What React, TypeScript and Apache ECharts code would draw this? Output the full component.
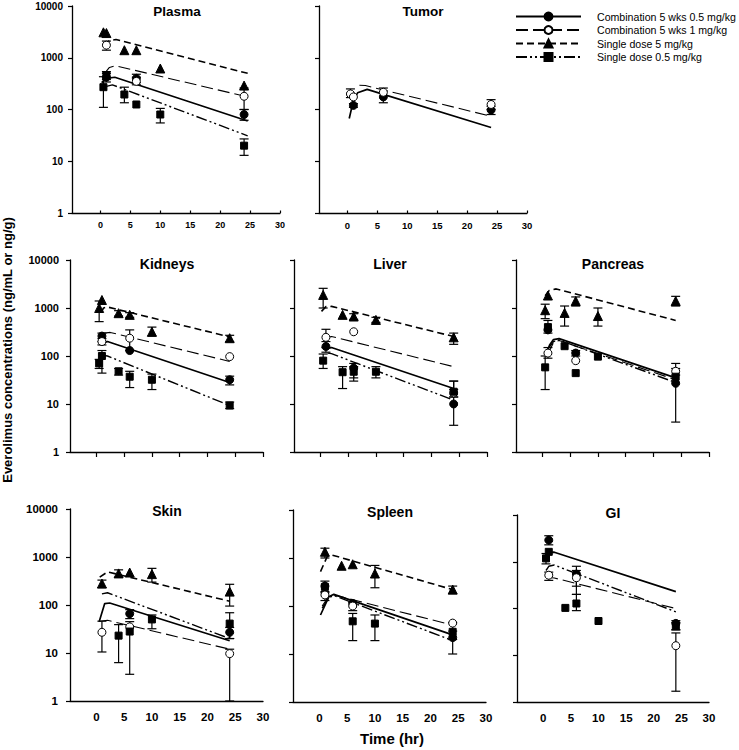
import React, { useEffect, useRef } from "react";
import * as echarts from "echarts";

// ---------- texts ----------
const legendNames = [
  "Combination 5 wks 0.5 mg/kg",
  "Combination 5 wks 1 mg/kg",
  "Single dose 5 mg/kg",
  "Single dose 0.5 mg/kg",
];
const panelNames = ["Plasma", "Tumor", "Kidneys", "Liver", "Pancreas", "Skin", "Spleen", "GI"];
const xTickValues = [0, 5, 10, 15, 20, 25, 30];
const yAxisTitle = "Everolimus concentrations (ng/mL or ng/g)";
const xAxisTitle = "Time (hr)";

// ---------- data: [time, mean, low, high] ----------
// Plasma
const plasmaComb05 = [[1, 420, 340, 500], [6, 400, 330, 480], [24, 80, 62, 100]];
const plasmaComb1 = [[1, 1750, 1400, 2100], [6, 350, 300, 420], [24, 180, 100, 260]];
const plasmaSingle5 = [[0.5, 3100], [1, 3000], [4, 1400], [6, 1400], [10, 620], [24, 290]];
const plasmaSingle05 = [[0.5, 270, 110, 430], [1, 460, 380, 540], [4, 195, 135, 270], [6, 125], [10, 80, 55, 105], [24, 20, 13, 27]];
const plasmaComb05Fit = [[0.2, 330], [1, 400], [2.4, 420], [24.6, 60]];
const plasmaComb1Fit = [[0.7, 500], [1.5, 650], [2.5, 700], [24.6, 175]];
const plasmaSingle5Fit = [[0.7, 1700], [1.5, 2150], [2.6, 2250], [24.6, 500]];
const plasmaSingle05Fit = [[1, 280], [2, 300], [24.6, 31]];

// Tumor
const tumorComb05 = [[1, 120, 110, 130], [6, 175, 135, 260], [24, 98, 80, 115]];
const tumorComb1 = [[0.5, 200, 170, 250], [1, 175], [6, 215], [24, 125, 100, 155]];
const tumorSingle5: number[][] = [];
const tumorSingle05: number[][] = [];
const tumorComb05Fit = [[0.3, 67], [1, 150], [1.7, 210], [3.3, 245], [24, 45]];
const tumorComb1Fit = [[2, 295], [3, 290], [23.8, 75]];
const tumorSingle5Fit: number[][] = [];
const tumorSingle05Fit: number[][] = [];

// Kidneys
const kidneysComb05 = [[1, 260, 200, 300], [6, 130], [24, 32, 25, 38]];
const kidneysComb1 = [[1, 200, 170, 230], [6, 235, 130, 350], [24, 97]];
const kidneysSingle5 = [[0.5, 1000, 520, 1400], [1, 1470], [4, 780, 680, 880], [6, 720, 640, 800], [10, 320, 260, 400], [24, 235, 200, 270]];
const kidneysSingle05 = [[0.5, 70, 55, 85], [1, 100, 44, 130], [4, 48, 40, 55], [6, 37, 22, 48], [10, 32, 20, 42], [24, 9.3, 8, 11]];
const kidneysComb05Fit = [[0.6, 185], [2, 200], [24, 28]];
const kidneysComb1Fit = [[1.4, 300], [2.5, 310], [24, 77]];
const kidneysSingle5Fit = [[0.8, 800], [1.3, 1000], [2, 1050], [24, 250]];
const kidneysSingle05Fit = [[0.8, 105], [2, 100], [24, 9.3]];

// Liver
const liverComb05 = [[1, 158, 120, 200], [6, 56, 35, 70], [24, 10, 3.6, 20]];
const liverComb1 = [[1, 245, 150, 360], [6, 320], [24, 17, 14, 30]];
const liverSingle5 = [[0.5, 1870, 1000, 2570], [4, 720], [6, 665, 580, 760], [10, 565, 500, 640], [24, 245, 175, 300]];
const liverSingle05 = [[0.5, 80, 55, 110], [4, 46, 21, 60], [6, 47, 30, 60], [10, 47, 35, 60], [24, 18, 14, 30]];
const liverComb05Fit = [[1.3, 145], [2, 150], [24, 21]];
const liverComb1Fit = [[0.7, 235], [2, 255], [24, 60]];
const liverSingle5Fit = [[0.2, 850], [1, 1070], [2, 1080], [24, 255]];
const liverSingle05Fit = [[1.3, 115], [2, 112], [24, 12]];

// Pancreas
const pancreasComb05 = [[1, 350], [6, 115, 100, 130], [24, 27]];
const pancreasComb1 = [[1, 115, 90, 150], [6, 80], [24, 48, 40, 55]];
const pancreasSingle5 = [[0.5, 900, 600, 1200], [1, 1820], [4, 790, 420, 1100], [6, 1400, 1100, 1700], [10, 680, 420, 1000], [24, 1400, 1100, 1750]];
const pancreasSingle05 = [[0.5, 58, 20, 100], [1, 400, 300, 550], [4, 160], [6, 44], [10, 97], [24, 37, 4.2, 70]];
const pancreasComb05Fit = [[0.8, 120], [1.3, 170], [2, 220], [3, 230], [24, 35]];
const pancreasComb1Fit = [[1, 110], [2, 190], [3, 210], [24, 32]];
const pancreasSingle5Fit = [[0.5, 1800], [1.2, 2300], [2.5, 2500], [24, 550]];
const pancreasSingle05Fit = [[1, 140], [2, 200], [3, 215], [24, 28]];

// Skin
const skinComb05 = [[6, 66, 52, 80], [24, 27, 20, 34]];
const skinComb1 = [[1, 27, 10.5, 46], [6, 35], [24, 9.7, 1, 12]];
const skinSingle5 = [[1, 280, 230, 330], [4, 455, 380, 540], [6, 475], [10, 440, 300, 580], [24, 190, 95, 270]];
const skinSingle05 = [[4, 23, 6.3, 39], [6, 28, 3.6, 45], [10, 50, 32, 62], [24, 41, 20, 69]];
const skinComb05Fit = [[0.5, 45], [1.5, 107], [2.4, 110], [24, 18]];
const skinComb1Fit = [[0.6, 46], [2, 48], [24, 12]];
const skinSingle5Fit = [[0.6, 380], [2, 490], [24, 120]];
const skinSingle05Fit = [[1, 170], [2, 180], [24, 20]];

// Spleen
const spleenComb05 = [[1, 260], [6, 113], [24, 22, 10, 30]];
const spleenComb1 = [[1, 170, 130, 200], [6, 100, 80, 120], [24, 44]];
const spleenSingle5 = [[1, 1350, 1000, 1600], [4, 690], [6, 740], [10, 475, 240, 700], [24, 220, 180, 260]];
const spleenSingle05 = [[1, 250, 190, 330], [6, 48, 19, 70], [10, 43, 19, 65], [24, 29, 20, 45]];
const spleenComb05Fit = [[0.2, 65], [1.7, 155], [2.6, 175], [24, 25]];
const spleenComb1Fit = [[0.5, 100], [1.7, 160], [2.6, 170], [24, 40]];
const spleenSingle5Fit = [[0.2, 520], [1.4, 1070], [2.3, 1150], [24, 220]];
const spleenSingle05Fit = [[0.5, 90], [1.7, 150], [2.6, 165], [24, 19]];

// GI
const giComb05 = [[1, 2900, 2300, 3600], [6, 545, 300, 800], [24, 48, 35, 55]];
const giComb1 = [[1, 515, 400, 600], [6, 455, 200, 650], [24, 16, 1.7, 30]];
const giSingle5: number[][] = [];
const giSingle05 = [[0.5, 1180, 900, 1500], [1, 1630], [4, 103], [6, 128, 90, 200], [10, 54], [24, 42, 35, 50]];
const giComb05Fit = [[1, 1580], [2, 1600], [24, 230]];
const giComb1Fit = [[0.5, 450], [1, 460], [2, 450], [24, 100]];
const giSingle5Fit: number[][] = [];
const giSingle05Fit = [[0.5, 650], [1, 800], [2, 850], [24, 85]];

const panelPoints = [
  [plasmaComb05, plasmaComb1, plasmaSingle5, plasmaSingle05],
  [tumorComb05, tumorComb1, tumorSingle5, tumorSingle05],
  [kidneysComb05, kidneysComb1, kidneysSingle5, kidneysSingle05],
  [liverComb05, liverComb1, liverSingle5, liverSingle05],
  [pancreasComb05, pancreasComb1, pancreasSingle5, pancreasSingle05],
  [skinComb05, skinComb1, skinSingle5, skinSingle05],
  [spleenComb05, spleenComb1, spleenSingle5, spleenSingle05],
  [giComb05, giComb1, giSingle5, giSingle05],
];
const panelFits = [
  [plasmaComb05Fit, plasmaComb1Fit, plasmaSingle5Fit, plasmaSingle05Fit],
  [tumorComb05Fit, tumorComb1Fit, tumorSingle5Fit, tumorSingle05Fit],
  [kidneysComb05Fit, kidneysComb1Fit, kidneysSingle5Fit, kidneysSingle05Fit],
  [liverComb05Fit, liverComb1Fit, liverSingle5Fit, liverSingle05Fit],
  [pancreasComb05Fit, pancreasComb1Fit, pancreasSingle5Fit, pancreasSingle05Fit],
  [skinComb05Fit, skinComb1Fit, skinSingle5Fit, skinSingle05Fit],
  [spleenComb05Fit, spleenComb1Fit, spleenSingle5Fit, spleenSingle05Fit],
  [giComb05Fit, giComb1Fit, giSingle5Fit, giSingle05Fit],
];

// ---------- layout & styles ----------
const FONT = "'Liberation Sans', Arial, Helvetica, sans-serif";

const layout = [
  { left: 72, top: 6, width: 208, height: 207, yLab: true, xLab: true, xTick: "in", yFont: 10, xFont: 9, yMargin: 9, xMargin: 7, tx: 177, ty: 11, tSize: 13.5 },
  { left: 319, top: 6, width: 208, height: 207, yLab: false, xLab: true, xTick: "in", yFont: 10, xFont: 9.5, yMargin: 9, xMargin: 7, tx: 423, ty: 11, tSize: 13.5 },
  { left: 70, top: 260, width: 193, height: 192, yLab: true, xLab: false, xTick: "out", yFont: 11, xFont: 11, yMargin: 11, xMargin: 8, tx: 167, ty: 264, tSize: 14 },
  { left: 294, top: 260, width: 193, height: 192, yLab: false, xLab: false, xTick: "out", yFont: 11, xFont: 11, yMargin: 11, xMargin: 8, tx: 390, ty: 264, tSize: 14 },
  { left: 516, top: 260, width: 193, height: 192, yLab: false, xLab: false, xTick: "out", yFont: 11, xFont: 11, yMargin: 11, xMargin: 8, tx: 613, ty: 264, tSize: 14 },
  { left: 70, top: 509, width: 193, height: 192, yLab: true, xLab: true, xTick: "none", yFont: 11.5, xFont: 11.5, yMargin: 12, xMargin: 10, tx: 167, ty: 511, tSize: 14 },
  { left: 293, top: 510, width: 193, height: 192, yLab: false, xLab: true, xTick: "none", yFont: 11.5, xFont: 11.5, yMargin: 12, xMargin: 10, tx: 390, ty: 512, tSize: 14 },
  { left: 517, top: 515, width: 192, height: 187, yLab: false, xLab: true, xTick: "none", yFont: 11.5, xFont: 11.5, yMargin: 12, xMargin: 10, tx: 613, ty: 513, tSize: 14 },
];

const seriesStyles = [
  { symbol: "circle", size: 8, fill: "#000", dash: "solid" as any, width: 1.7 },
  { symbol: "circle", size: 8, fill: "#fff", dash: [12, 5] as any, width: 1.1 },
  { symbol: "triangle", size: 9, fill: "#000", dash: [7, 4] as any, width: 1.6 },
  { symbol: "rect", size: 7, fill: "#000", dash: [11, 3, 2, 3, 2, 3] as any, width: 1.4 },
];

const renderErr = (params: any, api: any) => {
  const t = api.value(0);
  const lo = api.value(1);
  const hi = api.value(2);
  const a = api.coord([t, lo]);
  const b = api.coord([t, hi]);
  const w = 4.5;
  const st = { stroke: "#000", lineWidth: 1.2 };
  return {
    type: "group",
    children: [
      { type: "line", shape: { x1: a[0], y1: a[1], x2: b[0], y2: b[1] }, style: st },
      { type: "line", shape: { x1: a[0] - w, y1: a[1], x2: a[0] + w, y2: a[1] }, style: st },
      { type: "line", shape: { x1: b[0] - w, y1: b[1], x2: b[0] + w, y2: b[1] }, style: st },
    ],
  };
};

function buildOption() {
  const grid = layout.map((p) => ({ left: p.left, top: p.top, width: p.width, height: p.height }));
  const xAxis = layout.map((p, i) => ({
    type: "value",
    gridIndex: i,
    min: -4.75,
    max: 30,
    axisLine: { show: true, onZero: false, lineStyle: { color: "#000", width: 1.3 } },
    splitLine: { show: false },
    axisTick: {
      show: p.xTick !== "none",
      inside: p.xTick === "in",
      length: p.xTick === "in" ? 2.5 : 5,
      customValues: xTickValues,
      lineStyle: { color: "#000", width: 1.2 },
    },
    axisLabel: {
      show: p.xLab,
      customValues: xTickValues,
      fontSize: p.xFont,
      fontWeight: "bold",
      fontFamily: FONT,
      color: "#000",
      margin: p.xMargin,
    },
  }));
  const yAxis = layout.map((p, i) => ({
    type: "log",
    logBase: 10,
    gridIndex: i,
    min: 1,
    max: 10000,
    axisLine: { show: true, onZero: false, lineStyle: { color: "#000", width: 1.3 } },
    splitLine: { show: false },
    minorTick: { show: false },
    axisTick: { show: true, inside: false, length: 4, lineStyle: { color: "#000", width: 1.2 } },
    axisLabel: {
      show: p.yLab,
      formatter: (v: number) => String(Math.round(v)),
      fontSize: p.yFont,
      fontWeight: "bold",
      fontFamily: FONT,
      color: "#000",
      margin: p.yMargin,
    },
  }));

  const series: any[] = [];
  // legend carriers
  seriesStyles.forEach((s, k) => {
    series.push({
      type: "line",
      name: legendNames[k],
      xAxisIndex: 0,
      yAxisIndex: 0,
      data: [],
      symbol: s.symbol,
      symbolSize: s.size,
      itemStyle: { color: s.fill, borderColor: "#000", borderWidth: 1 },
      lineStyle: { color: "#000", type: s.dash, width: k === 0 ? 2 : s.width },
    });
  });

  panelFits.forEach((fits, i) => {
    fits.forEach((f, k) => {
      if (!f.length) return;
      const s = seriesStyles[k];
      series.push({
        type: "line",
        name: panelNames[i] + " fit " + k,
        xAxisIndex: i,
        yAxisIndex: i,
        data: f,
        symbol: "none",
        showSymbol: false,
        z: 2,
        silent: true,
        lineStyle: { color: "#000", type: s.dash, width: s.width },
      });
    });
  });

  panelPoints.forEach((pts, i) => {
    const errs: number[][] = [];
    pts.forEach((arr) => {
      arr.forEach((d) => {
        if (d.length > 2) errs.push([d[0], d[2] ?? d[1], d[3] ?? d[1]]);
      });
    });
    if (errs.length) {
      series.push({
        type: "custom",
        name: panelNames[i] + " error",
        xAxisIndex: i,
        yAxisIndex: i,
        data: errs,
        encode: { x: 0, y: [1, 2] },
        renderItem: renderErr,
        z: 3,
        silent: true,
      });
    }
    pts.forEach((arr, k) => {
      if (!arr.length) return;
      const s = seriesStyles[k];
      series.push({
        type: "scatter",
        name: panelNames[i] + " obs " + k,
        xAxisIndex: i,
        yAxisIndex: i,
        data: arr.map((d) => [d[0], d[1]]),
        symbol: s.symbol,
        symbolSize: s.size,
        z: 4,
        silent: true,
        itemStyle: { color: s.fill, borderColor: "#000", borderWidth: 1, opacity: 1 },
      });
    });
  });

  const graphic: any[] = layout.map((p, i) => ({
    type: "text",
    x: p.tx,
    y: p.ty,
    style: {
      text: panelNames[i],
      fontSize: p.tSize,
      fontWeight: "bold",
      fontFamily: FONT,
      fill: "#000",
      align: "center",
      verticalAlign: "middle",
    },
  }));
  graphic.push({
    type: "text",
    x: 7,
    y: 350,
    rotation: Math.PI / 2,
    style: {
      text: yAxisTitle,
      fontSize: 13,
      fontWeight: "bold",
      fontFamily: FONT,
      fill: "#000",
      align: "center",
      verticalAlign: "middle",
    },
  });
  graphic.push({
    type: "text",
    x: 392,
    y: 738,
    style: {
      text: xAxisTitle,
      fontSize: 15,
      fontWeight: "bold",
      fontFamily: FONT,
      fill: "#000",
      align: "center",
      verticalAlign: "middle",
    },
  });

  return {
    animation: false,
    backgroundColor: "#fff",
    grid,
    xAxis,
    yAxis,
    series,
    graphic,
    legend: {
      data: legendNames,
      left: 515,
      top: 11,
      padding: 0,
      orient: "vertical",
      itemWidth: 65,
      itemHeight: 10,
      itemGap: 2.5,
      selectedMode: false,
      textStyle: { fontSize: 10.6, fontFamily: FONT, color: "#000", padding: [0, 0, 0, 11] },
    },
  };
}

export default function App() {
  const ref = useRef<HTMLDivElement>(null);
  useEffect(() => {
    if (!ref.current) return;
    const chart = echarts.init(ref.current, undefined, { renderer: "svg" });
    chart.setOption(buildOption() as any);
    return () => chart.dispose();
  }, []);
  return (
    <div
      ref={ref}
      style={{ position: "absolute", left: 0, top: 0, width: 739, height: 750, background: "#fff" }}
    />
  );
}
